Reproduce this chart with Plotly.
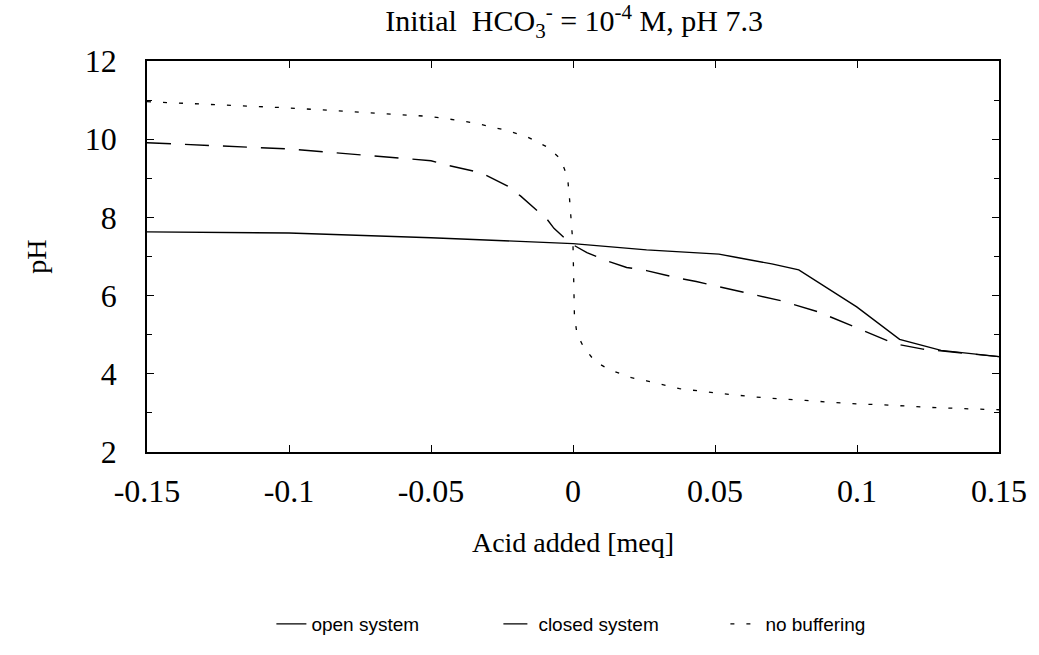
import plotly.graph_objects as go

# Titration curves: pH versus acid added
open_x = [-0.15, -0.1, -0.05, -0.044, 0.0, 0.0259, 0.0514, 0.0573, 0.070, 0.0795,
          0.0947, 0.0999, 0.115, 0.1296, 0.15]
open_y = [7.63, 7.6, 7.48, 7.46, 7.33, 7.17, 7.06, 6.98, 6.81, 6.66,
          5.94, 5.71, 4.88, 4.6, 4.44]

closed_x = [-0.15, -0.1, -0.05, -0.044, -0.0324, -0.023, -0.0185, -0.0126, -0.0091,
            -0.0067, -0.001, 0.0049, 0.0119, 0.0189, 0.0259, 0.0375, 0.0434, 0.0573,
            0.0678, 0.0737, 0.0865, 0.0935, 0.1074, 0.1133, 0.1232, 0.13, 0.15]
closed_y = [9.91, 9.75, 9.45, 9.33, 9.14, 8.8, 8.55, 8.17, 7.95,
            7.72, 7.34, 7.1, 6.89, 6.72, 6.64, 6.44, 6.36, 6.13,
            5.95, 5.86, 5.58, 5.37, 4.96, 4.77, 4.63, 4.58, 4.44]

nobuf_x = [-0.15, -0.1, -0.05, -0.0382, -0.0307, -0.0237, -0.0161, -0.0091, -0.0044,
           -0.0019, -0.0012, -0.0007, 0.0, 0.0005, 0.0014, 0.0037, 0.0078, 0.013,
           0.0206, 0.0259, 0.0375, 0.0515, 0.0667, 0.0818, 0.097, 0.111, 0.126,
           0.141, 0.15]
nobuf_y = [10.96, 10.8, 10.58, 10.46, 10.35, 10.23, 10.06, 9.8, 9.5,
           9.02, 8.46, 7.95, 7.3, 5.49, 5.02, 4.69, 4.31, 4.1,
           3.9, 3.82, 3.62, 3.5, 3.39, 3.32, 3.24, 3.2, 3.14,
           3.1, 3.08]

x_ticks = [-0.15, -0.1, -0.05, 0, 0.05, 0.1, 0.15]
x_tick_text = ["-0.15", "-0.1", "-0.05", "0", "0.05", "0.1", "0.15"]
y_ticks = [2, 4, 6, 8, 10, 12]

serif = "Liberation Serif, Times New Roman, serif"
sans = "Liberation Sans, Arial, sans-serif"

fig = go.Figure()
fig.add_trace(go.Scatter(x=open_x, y=open_y, mode="lines", name="open system",
                         line=dict(color="black", width=1.4)))
fig.add_trace(go.Scatter(x=closed_x, y=closed_y, mode="lines", name="closed system",
                         line=dict(color="black", width=1.4, dash="24px,14px")))
fig.add_trace(go.Scatter(x=nobuf_x, y=nobuf_y, mode="lines", name="no buffering",
                         line=dict(color="black", width=1.3, dash="4px,12px")))

axis_common = dict(showgrid=False, zeroline=False, showline=True, linecolor="black",
                   linewidth=1.5, mirror="ticks", ticks="inside", tickcolor="black",
                   tickwidth=1, tickfont=dict(family=serif, size=32, color="black"))

fig.update_xaxes(range=[-0.15, 0.15], tickvals=x_ticks, ticktext=x_tick_text,
                 ticklen=7, ticklabelstandoff=10,
                 title=dict(text="Acid added [meq]", standoff=24,
                            font=dict(family=serif, size=28, color="black")),
                 **axis_common)
fig.update_yaxes(range=[2, 12], tickvals=y_ticks, ticklen=7, ticklabelstandoff=22,
                 minor=dict(dtick=1, ticks="inside", ticklen=5, tickcolor="black"),
                 title=dict(text="pH", standoff=30,
                            font=dict(family=serif, size=28, color="black")),
                 **axis_common)

fig.update_layout(
    width=1039, height=655,
    margin=dict(l=147, r=34, t=61, b=200),
    paper_bgcolor="white", plot_bgcolor="white",
    title=dict(text="Initial  HCO<sub>3</sub><sup>-</sup> = 10<sup>-4</sup> M, pH 7.3",
               x=0.5525, xanchor="center", y=0.968, yanchor="middle",
               font=dict(family=serif, size=30, color="black")),
    showlegend=True,
    legend=dict(orientation="h", x=0.146, xanchor="left", y=-0.44, yanchor="middle",
                font=dict(family=sans, size=19, color="black"),
                entrywidth=182, entrywidthmode="pixels", bgcolor="rgba(0,0,0,0)"),
)

fig.write_html("out.html")
